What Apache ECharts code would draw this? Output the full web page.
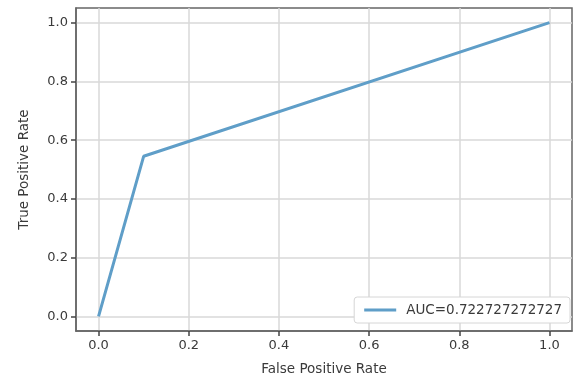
<!DOCTYPE html>
<html>
<head>
<meta charset="utf-8">
<script src="https://cdn.jsdelivr.net/npm/echarts@6/dist/echarts.min.js"></script>
<style>
  html, body { margin: 0; padding: 0; background: #fff; }
  #chart { width: 573px; height: 383px; }
</style>
</head>
<body>
<div id="chart"></div>
<script>
// ROC curve points
var fpr = [0.0, 0.1, 1.0]
var tpr = [0.0, 0.545, 1.0]
var tickValues = [0.0, 0.2, 0.4, 0.6, 0.8, 1.0]
var legendName = 'AUC=0.722727272727'

var myChart = echarts.init(document.getElementById('chart'))
var font = 'DejaVu Sans'
var textColor = '#3a3a3a'

function axisOpt(name, gap) {
  return {
    type: 'value',
    min: -0.05,
    max: 1.05,
    name: name,
    nameLocation: 'middle',
    nameGap: gap,
    nameTextStyle: { fontFamily: font, fontSize: 13.5, color: textColor },
    axisLine: { show: true, onZero: false, lineStyle: { color: '#666', width: 1.5 } },
    axisTick: {
      show: true,
      inside: false,
      length: 5,
      customValues: tickValues,
      lineStyle: { color: '#444', width: 1.5 },
    },
    axisLabel: {
      customValues: tickValues,
      margin: 8,
      fontFamily: font,
      fontSize: 13,
      color: textColor,
      formatter: function (v) {
        return v.toFixed(1)
      },
    },
    splitLine: { show: true, lineStyle: { color: '#d9d9d9', width: 1.5 } },
  }
}

var option = {
  animation: false,
  grid: {
    left: 76,
    right: 1,
    top: 8,
    bottom: 52,
    show: true,
    borderColor: '#666',
    borderWidth: 1.5,
  },
  xAxis: axisOpt('False Positive Rate', 31),
  yAxis: axisOpt('True Positive Rate', 45),
  legend: {
    right: 3,
    bottom: 60,
    padding: [6, 8, 6, 10],
    borderColor: '#d6d6d6',
    borderWidth: 1,
    borderRadius: 3,
    backgroundColor: '#fff',
    icon: 'rect',
    itemWidth: 32,
    itemHeight: 3,
    itemGap: 10,
    textStyle: { fontFamily: font, fontSize: 13.5, color: textColor, padding: [0, 0, 0, 5] },
    data: [legendName],
  },
  series: [
    {
      name: legendName,
      type: 'line',
      data: fpr.map(function (x, i) {
        return [x, tpr[i]]
      }),
      showSymbol: false,
      symbol: 'none',
      color: '#5f9ec8',
      lineStyle: { color: '#5f9ec8', width: 3 },
    },
  ],
}
myChart.setOption(option)
</script>
</body>
</html>
